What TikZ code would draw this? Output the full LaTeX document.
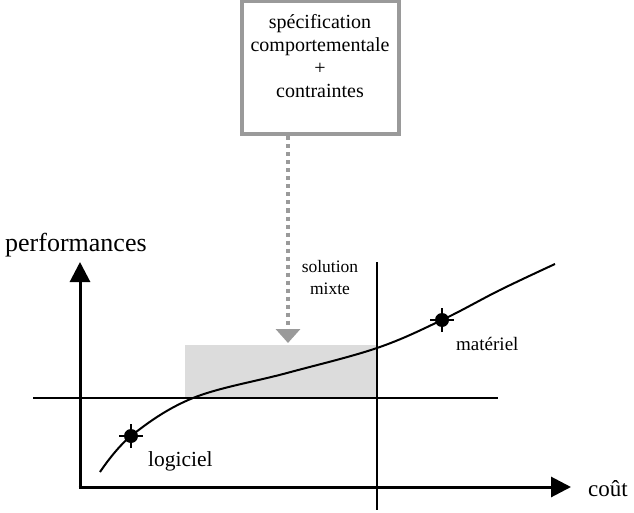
\documentclass[tikz,border=0pt]{standalone}
\usepackage{fontspec}
\setmainfont{Liberation Serif}
\usetikzlibrary{arrows.meta}
\definecolor{boxgray}{HTML}{9A9A9A}
\definecolor{zonegray}{HTML}{DCDCDC}
\tikzset{
  specbox/.style={draw=boxgray, line width=4pt, minimum width=157pt, minimum height=133pt, inner sep=0pt, fill=white},
  spectext/.style={align=center, inner sep=0pt, font=\fontsize{20}{23}\selectfont},
  axis/.style={line width=3pt, -{Triangle[length=20pt,width=20pt]}},
  thin/.style={line width=1.5pt},
  curve/.style={line width=2pt},
  dotarrow/.style={draw=boxgray, line width=4pt, dash pattern=on 4pt off 4pt, -{Triangle[length=14pt,width=24pt,fill=boxgray,color=boxgray]}},
  zone/.style={fill=zonegray, inner sep=0pt, anchor=north west, minimum width=192pt, minimum height=53pt},
  marker/.style={circle, fill=black, inner sep=0pt, minimum size=14pt},
  crossline/.style={line width=1.5pt},
  lab/.style={inner sep=0pt}
}
\begin{document}
\begin{tikzpicture}[x=1pt,y=-1pt]
\useasboundingbox (0,0) rectangle (634,513);
% gray zone
\node[zone] (zone) at (185,345) {};
% spec box
\node[specbox] (spec) at (320,68) {};
\node[spectext] (spectxt) at (320,56) {spécification\\comportementale\\+\\contraintes};
% dotted arrow
\coordinate (arrtip) at (288,343);
\draw[dotarrow] (spec.south -| arrtip) -- (arrtip);
% lines
\coordinate (hl) at (33,398);
\coordinate (hr) at (498,398);
\draw[thin] (hl) -- (hr);
\coordinate (vt) at (377,262);
\coordinate (vb) at (377,510);
\draw[thin] (vt) -- (vb);
% axes
\coordinate (O) at (80,487);
\coordinate (ytip) at (80,262);
\coordinate (xtip) at (571,487);
\draw[axis] (O) -- (ytip);
\draw[axis] ([xshift=-1.5pt]O) -- (xtip);
% curve
\draw[curve] plot[smooth, tension=0.6] coordinates {(100,472) (131,436) (193,398) (287,373) (377,348) (442,320) (500,290) (555,264)};
% markers
\node[marker] (log) at (131,436) {};
\node[marker] (mat) at (442,320) {};
\draw[crossline] ([xshift=-12pt]log.center) -- ([xshift=12pt]log.center);
\draw[crossline] ([yshift=-12pt]log.center) -- ([yshift=12pt]log.center);
\draw[crossline] ([xshift=-12pt]mat.center) -- ([xshift=12pt]mat.center);
\draw[crossline] ([yshift=-12pt]mat.center) -- ([yshift=12pt]mat.center);
% labels
\node[lab, anchor=base west, font=\fontsize{26}{26}\selectfont] (perf) at (5,251) {performances};
\node[lab, anchor=base west, font=\fontsize{23}{23}\selectfont] (cout) at (588,496) {coût};
\node[lab, align=center, font=\fontsize{17.5}{22}\selectfont] (sol) at (330,278) {solution\\mixte};
\node[lab, anchor=base west, font=\fontsize{21.5}{21.5}\selectfont] (logl) at (148,466) {logiciel};
\node[lab, anchor=base west, font=\fontsize{19}{19}\selectfont] (matl) at (456,350) {matériel};
\end{tikzpicture}
\end{document}
